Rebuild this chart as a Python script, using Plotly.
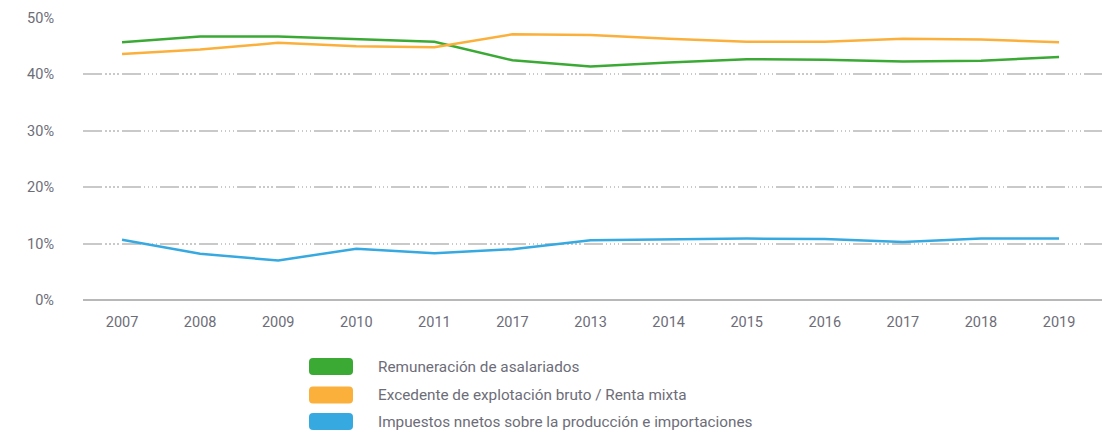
import plotly.graph_objects as go

years = ["2007", "2008", "2009", "2010", "2011", "2017", "2013", "2014", "2015", "2016", "2017", "2018", "2019"]
series_names = [
    "Remuneración de asalariados",
    "Excedente de explotación bruto / Renta mixta",
    "Impuestos nnetos sobre la producción e importaciones",
]
remuneracion = [45.7, 46.7, 46.7, 46.2, 45.8, 42.5, 41.4, 42.1, 42.7, 42.6, 42.3, 42.4, 43.1]
excedente = [43.6, 44.4, 45.6, 45.0, 44.8, 47.1, 47.0, 46.3, 45.8, 45.8, 46.3, 46.2, 45.7]
impuestos = [10.7, 8.2, 7.0, 9.1, 8.3, 9.0, 10.6, 10.7, 10.9, 10.8, 10.3, 10.9, 10.9]
y_ticks = [0, 10, 20, 30, 40, 50]
y_tick_labels = ["0%", "10%", "20%", "30%", "40%", "50%"]

colors = ["#3aaa35", "#fbb03b", "#36a9e1"]
font_family = "Roboto, sans-serif"
text_color = "#6d6d78"

x_idx = list(range(len(years)))
fig = go.Figure()
for name, vals, col in zip(series_names, [remuneracion, excedente, impuestos], colors):
    fig.add_trace(go.Scatter(x=x_idx, y=vals, mode="lines", name=name,
                             line=dict(color=col, width=2.5), showlegend=False))

# Manual legend (rounded swatches + text)
L, R, T, B = 83, 0, 18, 132
W, H = 1102, 432
pw, ph = W - L - R, H - T - B

def px(x):
    return (x - L) / pw

def py(y):
    return (H - B - y) / ph

rows = [(358, 375, 366.5), (386.5, 403.5, 395), (413, 430, 421.5)]
rx, ry = 4 / pw, 4 / ph
for (y0, y1, yc), name, col in zip(rows, series_names, colors):
    x0, x1 = px(309), px(353)
    ya, yb = py(y1), py(y0)
    path = (f"M {x0+rx},{ya} L {x1-rx},{ya} Q {x1},{ya} {x1},{ya+ry} "
            f"L {x1},{yb-ry} Q {x1},{yb} {x1-rx},{yb} L {x0+rx},{yb} "
            f"Q {x0},{yb} {x0},{yb-ry} L {x0},{ya+ry} Q {x0},{ya} {x0+rx},{ya} Z")
    fig.add_shape(type="path", path=path, xref="paper", yref="paper",
                  fillcolor=col, line=dict(width=0), layer="above")
    fig.add_annotation(x=px(376), y=py(yc), xref="paper", yref="paper",
                       text=name, showarrow=False, xanchor="left", yanchor="middle",
                       font=dict(family=font_family, size=15.3, color=text_color))

grid_dash = "19px,3px,1.5px,2.5px,1.5px,2.5px,1.5px,2.5px,1.5px,3px"
fig.update_layout(
    width=W, height=H,
    margin=dict(l=L, r=R, t=T, b=B),
    paper_bgcolor="white", plot_bgcolor="white",
    font=dict(family=font_family, size=14.5, color=text_color),
    xaxis=dict(range=[-0.5, 12.55], tickmode="array", tickvals=x_idx, ticktext=years,
               showgrid=False, zeroline=False, showline=False, ticks="",
               ticklabelstandoff=11, fixedrange=True, automargin=False),
    yaxis=dict(range=[0, 50], tickmode="array", tickvals=y_ticks, ticktext=y_tick_labels,
               showgrid=True, gridcolor="#c9c9c9", gridwidth=1.5, griddash=grid_dash,
               zeroline=True, zerolinecolor="#b8b8b8", zerolinewidth=1.5,
               showline=False, ticks="", ticklabelstandoff=28, fixedrange=True,
               automargin=False),
)

fig.write_html("out.html", config={"displayModeBar": False},
               post_script="document.body.style.margin='0px';")
